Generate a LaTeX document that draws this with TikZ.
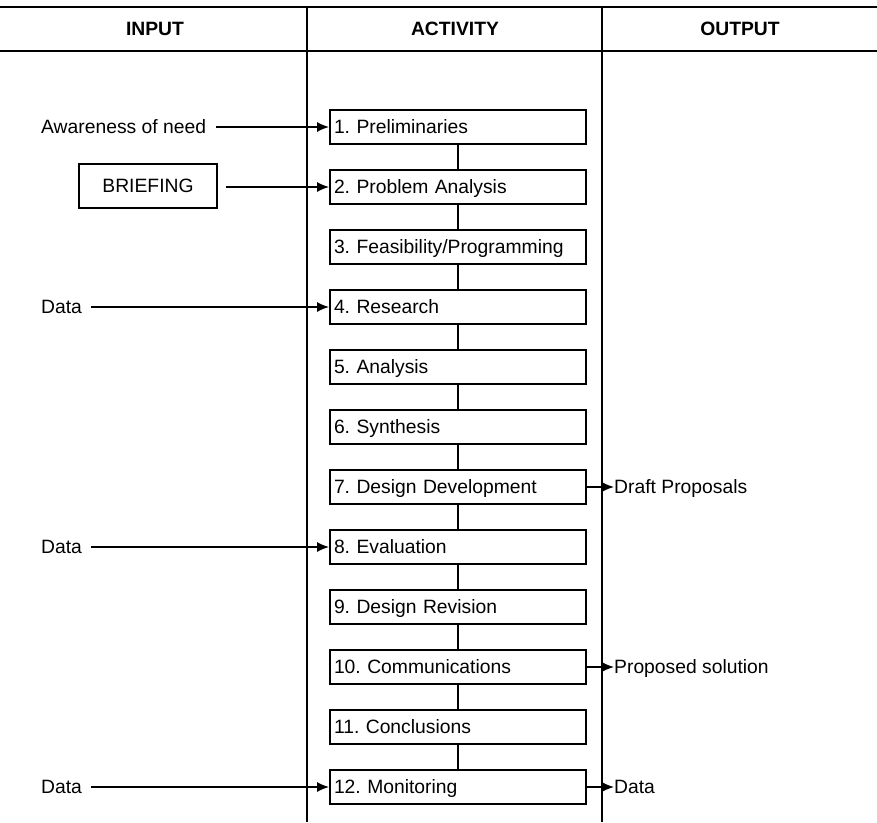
\documentclass[tikz,border=0pt]{standalone}
\usepackage{fontspec}
\setmainfont{Liberation Sans}
\usetikzlibrary{arrows.meta}
\begin{document}
\frenchspacing
\begin{tikzpicture}[x=1pt,y=-1pt,
  stepbox/.style={draw, line width=1.8pt, text width=248pt, minimum height=34pt, inner sep=4pt, align=left, text height=13.8pt, text depth=0pt, font=\fontsize{19.3}{21}\selectfont},
  lbl/.style={inner sep=0pt, text height=13.8pt, text depth=0pt, font=\fontsize{19.3}{21}\selectfont},
  hdr/.style={inner sep=0pt, text height=13.8pt, text depth=0pt, font=\fontsize{19.3}{21}\selectfont\bfseries},
  briefbox/.style={draw, line width=1.8pt, minimum width=138pt, minimum height=44pt, inner sep=0pt, text height=13.8pt, text depth=0pt, font=\fontsize{19.3}{21}\selectfont},
  arr/.style={line width=1.6pt, -{Latex[length=12pt,width=10pt]}},
  link/.style={line width=1.4pt},
  rule/.style={line width=1.8pt}]
\fill[white] (0,0) rectangle (877,822);
\useasboundingbox (0,0) rectangle (877,822);
% table rules
\draw[rule] (0,7) -- (877,7);
\draw[rule] (0,51) -- (877,51);
\draw[rule] (307,7) -- (307,822);
\draw[rule] (602,7) -- (602,822);
% headers
\node[hdr] (hin) at (155,29) {INPUT};
\node[hdr] (hact) at (455,29) {ACTIVITY};
\node[hdr] (hout) at (740,29) {OUTPUT};
% activity boxes
\node[stepbox] (s1) at (458,127) {1. Preliminaries};
\node[stepbox] (s2) at (458,187) {2. Problem Analysis};
\node[stepbox] (s3) at (458,247) {3. Feasibility/Programming};
\node[stepbox] (s4) at (458,307) {4. Research};
\node[stepbox] (s5) at (458,367) {5. Analysis};
\node[stepbox] (s6) at (458,427) {6. Synthesis};
\node[stepbox] (s7) at (458,487) {7. Design Development};
\node[stepbox] (s8) at (458,547) {8. Evaluation};
\node[stepbox] (s9) at (458,607) {9. Design Revision};
\node[stepbox] (s10) at (458,667) {10. Communications};
\node[stepbox] (s11) at (458,727) {11. Conclusions};
\node[stepbox] (s12) at (458,787) {12. Monitoring};
\foreach \a/\b in {s1/s2,s2/s3,s3/s4,s4/s5,s5/s6,s6/s7,s7/s8,s8/s9,s9/s10,s10/s11,s11/s12}
  \draw[link] (\a) -- (\b);
% inputs
\node[lbl, anchor=west] (i1) at (41,127) {Awareness of need};
\node[briefbox] (i2) at (148,186) {BRIEFING};
\node[lbl, anchor=west] (i4) at (41,307) {Data};
\node[lbl, anchor=west] (i8) at (41,547) {Data};
\node[lbl, anchor=west] (i12) at (41,787) {Data};
\draw[arr, shorten <=10pt] (i1) -- (s1);
\draw[arr, shorten <=8pt] (i2.east |- s2) -- (s2);
\draw[arr, shorten <=9pt] (i4) -- (s4);
\draw[arr, shorten <=9pt] (i8) -- (s8);
\draw[arr, shorten <=9pt] (i12) -- (s12);
% outputs
\node[lbl, anchor=west] (o7) at (614,487) {Draft Proposals};
\node[lbl, anchor=west] (o10) at (614,667) {Proposed solution};
\node[lbl, anchor=west] (o12) at (614,787) {Data};
\draw[arr] (s7) -- (o7);
\draw[arr] (s10) -- (o10);
\draw[arr] (s12) -- (o12);
\end{tikzpicture}
\end{document}
